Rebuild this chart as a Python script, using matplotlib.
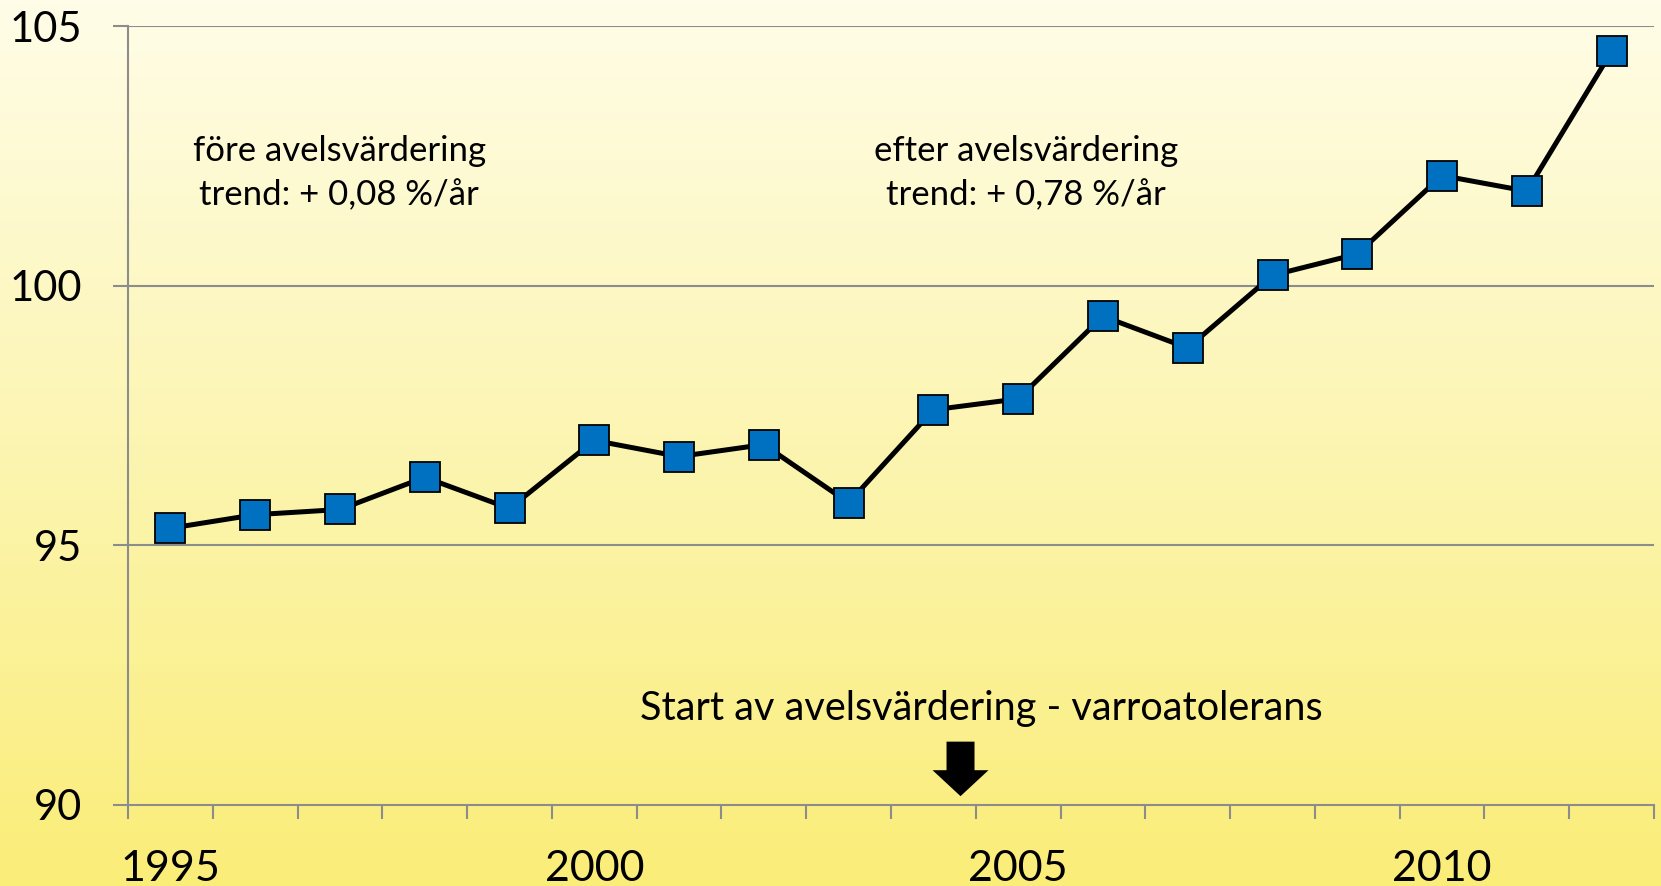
import numpy as np
import matplotlib
matplotlib.use("Agg")
import matplotlib.pyplot as plt
from matplotlib.colors import LinearSegmentedColormap
from matplotlib.patches import FancyArrow

years = list(range(1995, 2013))
values = [95.33, 95.59, 95.69, 96.31, 95.71, 97.02, 96.71, 96.94, 95.82,
          97.61, 97.82, 99.41, 98.80, 100.20, 100.61, 102.12, 101.82, 104.51]
label_years = [1995, 2000, 2005, 2010]
y_ticks = [90, 95, 100, 105]

plt.rcParams['font.family'] = ['Lato', 'DejaVu Sans']

W, H = 1661, 886
fig = plt.figure(figsize=(W / 100, H / 100), dpi=100)
PX = 72 / 100  # points per pixel

# gradient background
bg = fig.add_axes([0, 0, 1, 1], zorder=-10)
cmap = LinearSegmentedColormap.from_list('bg', ['#FFFDE7', '#FCF5B2', '#FAED78'])
grad = np.linspace(0, 1, 256).reshape(-1, 1)
bg.imshow(grad, aspect='auto', cmap=cmap, extent=[0, 1, 0, 1], origin='upper')
bg.axis('off')

left, right = 128 / W, 1654 / W
bottom, top = (H - 805) / H, (H - 26) / H
ax = fig.add_axes([left, bottom, right - left, top - bottom])
ax.patch.set_alpha(0)

x = np.arange(len(years))
ax.plot(x, values, color='black', lw=3.6, marker='s', markersize=21,
        markerfacecolor='#0070C0', markeredgecolor='black', markeredgewidth=1.3,
        zorder=5, clip_on=False)

ax.set_xlim(-0.5, len(years) - 0.5)
ax.set_ylim(90, 105)

grid_col = '#8C8C8C'
for s in ['top', 'right']:
    ax.spines[s].set_visible(False)
for s in ['left', 'bottom']:
    ax.spines[s].set_color(grid_col)
    ax.spines[s].set_linewidth(1.5)

ax.set_yticks(y_ticks)
ax.set_yticklabels([str(v) for v in y_ticks], fontsize=30)
ax.tick_params(axis='y', length=15 * PX, width=1.5, color=grid_col, pad=31 * PX)
for v in y_ticks[1:]:
    ax.axhline(v, color=grid_col, lw=1.5, zorder=1)

ax.set_xticks([years.index(y) for y in label_years])
ax.set_xticklabels([str(y) for y in label_years], fontsize=31)
ax.tick_params(axis='x', length=0, pad=45 * PX)
ax.set_xticks(np.arange(-0.5, len(years)), minor=True)
ax.tick_params(axis='x', which='minor', length=14 * PX, width=1.5, color=grid_col)

ax.text(1.99, 102.6, 'före avelsvärdering', ha='center', va='center', fontsize=25)
ax.text(1.99, 101.75, 'trend: + 0,08 %/år', ha='center', va='center', fontsize=25)
ax.text(10.09, 102.6, 'efter avelsvärdering', ha='center', va='center', fontsize=25)
ax.text(10.09, 101.75, 'trend: + 0,78 %/år', ha='center', va='center', fontsize=25)
ax.text(9.56, 91.85, 'Start av avelsvärdering - varroatolerans', ha='center', va='center', fontsize=28.5)

ax.add_patch(FancyArrow(9.32, 91.22, 0, -1.05, width=0.33, head_width=0.66,
                        head_length=0.50, length_includes_head=True,
                        color='black', lw=0, zorder=6))

fig.savefig('out.png', dpi=100)
